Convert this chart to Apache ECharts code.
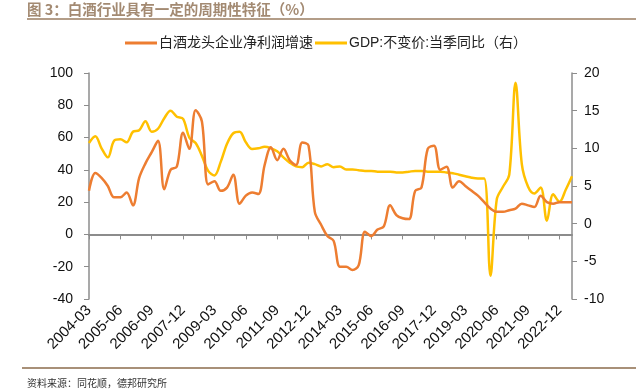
<!DOCTYPE html>
<html>
<head>
<meta charset="utf-8">
<script src="https://cdn.jsdelivr.net/npm/echarts@6/dist/echarts.min.js"></script>
<style>
html,body{margin:0;padding:0;background:#fff;}
#c{width:636px;height:391px;}
</style>
</head>
<body>
<div id="c"></div>
<script>
const categories = [
'2004-03','2004-06','2004-09','2004-12','2005-03','2005-06','2005-09','2005-12',
'2006-03','2006-06','2006-09','2006-12','2007-03','2007-06','2007-09','2007-12',
'2008-03','2008-06','2008-09','2008-12','2009-03','2009-06','2009-09','2009-12',
'2010-03','2010-06','2010-09','2010-12','2011-03','2011-06','2011-09','2011-12',
'2012-03','2012-06','2012-09','2012-12','2013-03','2013-06','2013-09','2013-12',
'2014-03','2014-06','2014-09','2014-12','2015-03','2015-06','2015-09','2015-12',
'2016-03','2016-06','2016-09','2016-12','2017-03','2017-06','2017-09','2017-12',
'2018-03','2018-06','2018-09','2018-12','2019-03','2019-06','2019-09','2019-12',
'2020-03','2020-06','2020-09','2020-12','2021-03','2021-06','2021-09','2021-12',
'2022-03','2022-06','2022-09','2022-12','2023-03','2023-06'];

const liquorProfitGrowth = [
27, 38, 35, 30, 23, 23, 26, 18,
35, 44, 51, 58, 28, 40, 42, 63,
53, 77, 70, 31, 33, 27, 29, 37,
19, 24, 26, 25, 43, 54, 46, 53,
46, 43, 57, 55, 14, 6, -1, -4,
-20, -20, -22, -19, 1.6, -1, 3, 5,
18, 12, 10, 9.5, 27, 29, 53, 55,
40, 42, 29, 33, 30, 27, 24, 20,
16, 14, 14, 15, 16, 19, 18, 17,
24, 20, 19, 20, 20, 20];

const gdpYoY = [
10.7, 11.6, 10.0, 8.8, 11.0, 11.2, 10.8, 12.2,
12.4, 13.6, 12.2, 12.6, 14.0, 15.0, 14.2, 13.9,
11.4, 10.7, 9.0, 7.0, 6.4, 8.2, 10.6, 12.0,
12.2, 10.8, 9.9, 10.0, 10.2, 10.0, 9.6, 8.8,
8.1, 7.6, 7.5, 8.1, 7.9, 7.6, 7.9, 7.5,
7.6, 7.2, 7.2, 7.1, 7.0, 7.0, 6.9, 6.9,
6.9, 6.8, 6.8, 6.9, 7.0, 7.0, 6.9, 6.9,
6.9, 6.8, 6.7, 6.5, 6.3, 6.1, 6.0, 6.0,
-6.9, 3.2, 4.9, 6.5, 18.7, 7.9, 4.9, 4.0,
4.8, 0.4, 3.9, 2.9, 4.5, 6.3];

const leftTicks = {min: -40, max: 100, interval: 20};
const rightTicks = {min: -10, max: 20, interval: 5};

const seriesNames = ['白酒龙头企业净利润增速', 'GDP:不变价:当季同比（右）'];
const titleText = '图 3：白酒行业具有一定的周期性特征（%）';
const sourceText = '资料来源：同花顺，德邦研究所';

const numFont = '"Liberation Sans", Arial, sans-serif';
const cjkFont = '"Liberation Sans", "Noto Sans CJK SC", sans-serif';
const axisColor = '#8c8c8c';

const chart = echarts.init(document.getElementById('c'), null, {renderer: 'canvas'});
chart.setOption({
  animation: false,
  backgroundColor: '#fff',
  title: {
    text: titleText,
    left: 22,
    top: -3,
    textStyle: {fontFamily: '"Noto Sans CJK SC", sans-serif', fontSize: 14.5, fontWeight: 'bold', color: '#a38a72'}
  },
  graphic: [
    {type: 'rect', shape: {x: 27, y: 18, width: 609, height: 2}, style: {fill: '#b39d88'}},
    {type: 'rect', shape: {x: 22, y: 367, width: 614, height: 2}, style: {fill: '#a89078'}},
    {type: 'text', left: 27, top: 378, style: {text: sourceText, font: '10px "Noto Sans CJK SC", sans-serif', fill: '#333'}}
  ],
  legend: {
    top: 31,
    left: 120,
    itemWidth: 32,
    itemHeight: 3,
    itemGap: 2,
    icon: 'rect',
    textStyle: {fontFamily: cjkFont, fontSize: 14, color: '#222', padding: [0, 0, 0, -3]},
    data: seriesNames
  },
  grid: {left: 89, right: 64, top: 73, bottom: 92, containLabel: false},
  xAxis: [
    {
      type: 'category',
      data: categories,
      boundaryGap: false,
      position: 'bottom',
      axisLine: {show: false, onZero: false},
      axisTick: {show: false},
      axisLabel: {interval: 4, rotate: 45, margin: 9, fontFamily: numFont, fontSize: 15, color: '#111'},
      splitLine: {show: false}
    },
    {
      type: 'category',
      data: categories,
      boundaryGap: false,
      position: 'top',
      axisLine: {show: true, onZero: true, onZeroAxisIndex: 0, lineStyle: {color: axisColor, width: 2}},
      axisTick: {show: true, inside: true, interval: 4, length: 5, lineStyle: {color: axisColor, width: 1}},
      axisLabel: {show: false},
      splitLine: {show: false}
    }
  ],
  yAxis: [
    {
      type: 'value',
      position: 'left',
      min: leftTicks.min, max: leftTicks.max, interval: leftTicks.interval,
      axisLine: {show: true, lineStyle: {color: axisColor, width: 1.5}},
      axisTick: {show: true, length: 5, lineStyle: {color: axisColor}},
      axisLabel: {margin: 16, fontFamily: numFont, fontSize: 14, color: '#111'},
      splitLine: {show: false}
    },
    {
      type: 'value',
      position: 'right',
      min: rightTicks.min, max: rightTicks.max, interval: rightTicks.interval,
      axisLine: {show: true, lineStyle: {color: axisColor, width: 1.5}},
      axisTick: {show: true, length: 5, lineStyle: {color: axisColor}},
      axisLabel: {margin: 12, fontFamily: numFont, fontSize: 14, color: '#111'},
      splitLine: {show: false}
    }
  ],
  series: [
    {
      name: seriesNames[0],
      type: 'line',
      xAxisIndex: 0,
      yAxisIndex: 0,
      data: liquorProfitGrowth,
      smooth: 0.35,
      symbol: 'none',
      z: 3,
      lineStyle: {color: '#ED7D31', width: 2.5},
      itemStyle: {color: '#ED7D31'}
    },
    {
      name: seriesNames[1],
      type: 'line',
      xAxisIndex: 0,
      yAxisIndex: 1,
      data: gdpYoY,
      smooth: 0.35,
      symbol: 'none',
      z: 2,
      lineStyle: {color: '#FFC000', width: 2.5},
      itemStyle: {color: '#FFC000'}
    }
  ]
});
</script>
</body>
</html>
